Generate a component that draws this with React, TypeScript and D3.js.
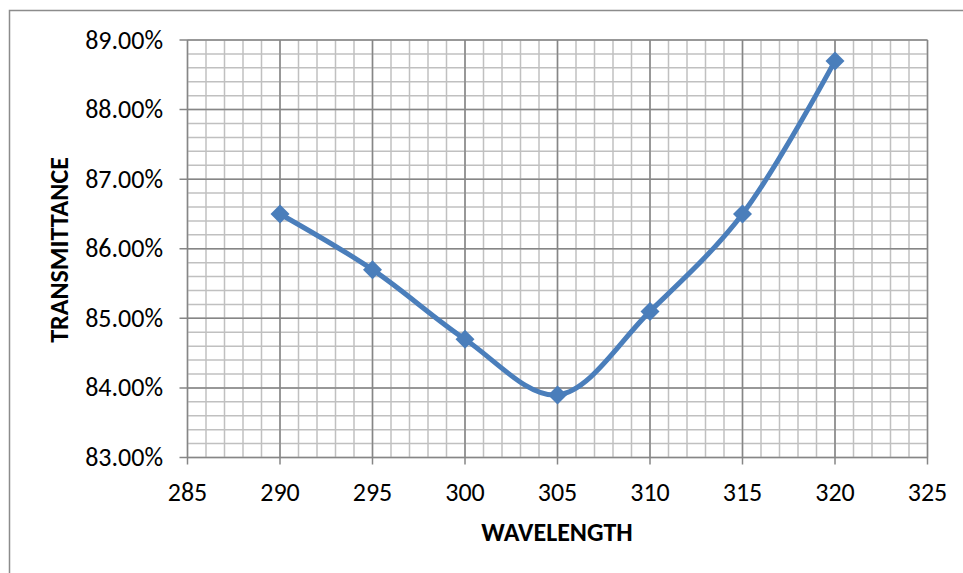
import React from "react";
import * as d3 from "d3";

const wavelengths = [290, 295, 300, 305, 310, 315, 320];
const transmittance = [0.865, 0.857, 0.847, 0.839, 0.851, 0.865, 0.887];
const xTicks = [285, 290, 295, 300, 305, 310, 315, 320, 325];
const yTicks = [0.83, 0.84, 0.85, 0.86, 0.87, 0.88, 0.89];

export default function App() {
  const W = 963, H = 573;
  const left = 187.5, right = 927.5, top = 40, bottom = 457.5;
  const x = d3.scaleLinear().domain([285, 325]).range([left, right]);
  const y = d3.scaleLinear().domain([0.83, 0.89]).range([bottom, top]);
  const minorX = d3.range(285, 325.01, 1);
  const minorY = d3.range(0, 31).map((i) => 0.83 + i * 0.002);
  const pts: [number, number][] = wavelengths.map((w, i) => [w, transmittance[i]]);
  const line = d3
    .line<[number, number]>()
    .x((d) => x(d[0]))
    .y((d) => y(d[1]))
    .curve(d3.curveCatmullRom.alpha(0.5));
  const font = "Carlito, 'Open Sans', 'Noto Sans', sans-serif";
  const diamond = (cx: number, cy: number, r: number) =>
    `M${cx},${cy - r}L${cx + r},${cy}L${cx},${cy + r}L${cx - r},${cy}Z`;
  return (
    <svg width={W} height={H} style={{ position: "absolute", left: 0, top: 0 }} fontFamily={font}>
      <rect x={0} y={0} width={W} height={H} fill="#fff" />
      <rect x={9.5} y={10.5} width={W + 10} height={H + 10} fill="none" stroke="#8c8c8c" strokeWidth={1.5} />
      {minorX.map((v) => (
        <line key={"mx" + v} x1={x(v)} x2={x(v)} y1={top} y2={bottom} stroke="#c0c0c0" strokeWidth={1.5} />
      ))}
      {minorY.map((v, i) => (
        <line key={"my" + i} x1={left} x2={right} y1={y(v)} y2={y(v)} stroke="#c0c0c0" strokeWidth={1.5} />
      ))}
      {xTicks.map((v) => (
        <line key={"Mx" + v} x1={x(v)} x2={x(v)} y1={top} y2={bottom + 7} stroke="#868686" strokeWidth={1.5} />
      ))}
      {yTicks.map((v) => (
        <line key={"My" + v} x1={left - 8} x2={right} y1={y(v)} y2={y(v)} stroke="#868686" strokeWidth={1.5} />
      ))}
      {yTicks.map((v) => (
        <text key={"yt" + v} x={163} y={y(v)} dy="0.33em" textAnchor="end" fontSize={26} fill="#000">
          {(v * 100).toFixed(2) + "%"}
        </text>
      ))}
      {xTicks.map((v) => (
        <text key={"xt" + v} x={x(v)} y={501} textAnchor="middle" fontSize={26} fill="#000">
          {v}
        </text>
      ))}
      <path d={line(pts) || ""} fill="none" stroke="#4a7ebb" strokeWidth={5} strokeLinejoin="round" />
      {pts.map((p, i) => (
        <path key={"pt" + i} d={diamond(x(p[0]), y(p[1]), 9.5)} fill="#4a7ebb" />
      ))}
      <text x={557} y={541} textAnchor="middle" fontSize={26} fontWeight="bold" fill="#000">
        WAVELENGTH
      </text>
      <text transform={`translate(68,250) rotate(-90)`} textAnchor="middle" fontSize={26} fontWeight="bold" fill="#000">
        TRANSMITTANCE
      </text>
    </svg>
  );
}
